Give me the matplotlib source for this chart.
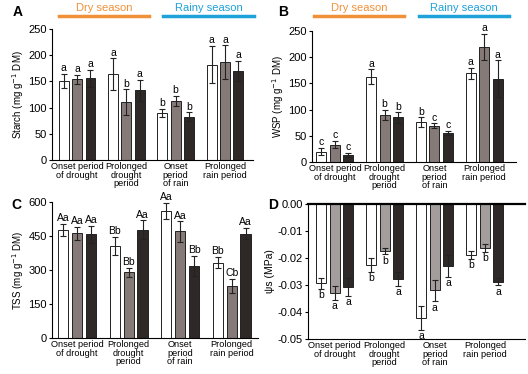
import matplotlib
matplotlib.use("Agg")
import matplotlib.pyplot as plt
import numpy as np

plt.rcParams['font.family'] = ['Liberation Sans Narrow', 'Liberation Sans', 'DejaVu Sans']

categories = ["Onset period\nof drought", "Prolonged\ndrought\nperiod",
              "Onset\nperiod\nof rain", "Prolonged\nrain period"]

# Panel A: Starch
starch = [[151, 154, 156], [164, 110, 133], [90, 113, 83], [182, 187, 170]]
starch_err = [[13, 9, 16], [30, 25, 20], [7, 9, 8], [36, 32, 19]]
starch_let = [["a", "a", "a"], ["a", "b", "a"], ["b", "b", "b"], ["a", "a", "a"]]

# Panel B: WSP
wsp = [[20, 33, 13], [163, 90, 85], [76, 69, 55], [169, 220, 159]]
wsp_err = [[7, 7, 4], [14, 10, 10], [9, 5, 4], [11, 25, 35]]
wsp_let = [["c", "c", "c"], ["a", "b", "b"], ["b", "c", "c"], ["a", "a", "a"]]

# Panel C: TSS
tss = [[477, 462, 458], [405, 290, 477], [560, 470, 317], [333, 230, 460]]
tss_err = [[28, 28, 38], [40, 20, 42], [35, 45, 45], [25, 30, 25]]
tss_let = [["Aa", "Aa", "Aa"], ["Bb", "Bb", "Aa"], ["Aa", "Aa", "Bb"], ["Bb", "Cb", "Aa"]]

# Panel D: osmotic potential
psi = [[-0.0293, -0.0330, -0.0308], [-0.0225, -0.0175, -0.0278],
       [-0.0422, -0.0320, -0.0230], [-0.0188, -0.0162, -0.0288]]
psi_err = [[0.0020, 0.0025, 0.0033], [0.0025, 0.0012, 0.0025],
           [0.0045, 0.0040, 0.0040], [0.0015, 0.0015, 0.0013]]
psi_let = [["b", "a", "a"], ["b", "b", "a"], ["a", "a", "a"], ["b", "b", "a"]]

W, H = 528, 374
fig = plt.figure(figsize=(W / 100, H / 100), dpi=100)

def ax_px(l, r, t, b):
    return fig.add_axes([l / W, 1 - b / H, (r - l) / W, (b - t) / H])

fills = ["white", "#857a77", "#2e2927"]
fills_d = ["white", "#a39d9b", "#2e2927"]
offs = [-0.27, 0, 0.27]
bw = 0.2
FS = 7.5

def draw(ax, vals, errs, lets, colors, neg=False):
    x = np.arange(len(vals))
    for j in range(3):
        v = [g[j] for g in vals]
        e = [g[j] for g in errs]
        ax.bar(x + offs[j], v, bw, color=colors[j], edgecolor="#222222", linewidth=0.7, zorder=2)
        ax.errorbar(x + offs[j], v, yerr=e, fmt="none", ecolor="#222222",
                    elinewidth=0.8, capsize=2.3, capthick=0.8, zorder=3)
        for i in range(len(vals)):
            if not neg:
                ax.annotate(lets[i][j], (x[i] + offs[j], v[i] + e[i]), xytext=(0, 0.5),
                            textcoords="offset points", ha="center", va="bottom", fontsize=FS)
            else:
                ax.annotate(lets[i][j], (x[i] + offs[j], v[i] - e[i]), xytext=(0, -1),
                            textcoords="offset points", ha="center", va="top", fontsize=FS)
    ax.set_xticks(x)
    ax.set_xticklabels(categories, fontsize=6.6, linespacing=0.95)
    ax.tick_params(axis="x", length=0, pad=1.5)
    ax.tick_params(axis="y", labelsize=8, length=2.5, width=0.8, pad=1.2)
    for s in ["top", "right"]:
        ax.spines[s].set_visible(False)
    for s in ["left", "bottom"]:
        ax.spines[s].set_linewidth(0.8)

# A
axA = ax_px(52, 253, 29, 160)
draw(axA, starch, starch_err, starch_let, fills)
axA.set_xlim(-0.51, 3.57)
axA.set_ylim(0, 250)
axA.set_yticks([0, 50, 100, 150, 200, 250])
axA.set_ylabel("Starch (mg g$^{-1}$ DM)", fontsize=7, labelpad=2)

# B
axB = ax_px(312, 516, 31, 162)
draw(axB, wsp, wsp_err, wsp_let, fills)
axB.set_xlim(-0.46, 3.64)
axB.set_ylim(0, 250)
axB.set_yticks([0, 50, 100, 150, 200, 250])
axB.set_ylabel("WSP (mg g$^{-1}$ DM)", fontsize=7, labelpad=2)

# C
axC = ax_px(52, 258, 202, 338)
draw(axC, tss, tss_err, tss_let, fills)
axC.set_xlim(-0.49, 3.51)
axC.set_ylim(0, 600)
axC.set_yticks([0, 150, 300, 450, 600])
axC.set_ylabel("TSS (mg g$^{-1}$ DM)", fontsize=7, labelpad=2)

# D
axD = ax_px(308, 525, 204, 339)
draw(axD, psi, psi_err, psi_let, fills_d, neg=True)
axD.set_xlim(-0.53, 3.8)
axD.set_ylim(-0.05, 0)
axD.set_yticks([0, -0.01, -0.02, -0.03, -0.04, -0.05])
axD.set_yticklabels(["0.00", "-0.01", "-0.02", "-0.03", "-0.04", "-0.05"])
axD.spines["top"].set_visible(True)
axD.spines["top"].set_linewidth(1.6)
axD.set_ylabel("ψs (MPa)", fontsize=7.5, labelpad=2)

# panel letters
for lbl, (px, py) in zip("ABCD", [(13, 12), (278, 12), (11, 205), (268, 205)]):
    fig.text(px / W, 1 - py / H, lbl, fontsize=10, fontweight="bold", ha="left", va="center",
             family=["Liberation Sans", "DejaVu Sans"])

# season headers
orange, blue = "#f0913a", "#1ea2d9"
for (x0, x1, txt, col) in [(59, 149, "Dry season", orange), (163, 254, "Rainy season", blue),
                           (314, 404, "Dry season", orange), (419, 509, "Rainy season", blue)]:
    fig.add_artist(plt.Line2D([x0 / W, x1 / W], [1 - 16 / H, 1 - 16 / H], color=col, lw=2.5,
                              transform=fig.transFigure))
    fig.text((x0 + x1) / 2 / W, 1 - 8 / H, txt, color=col, fontsize=8, ha="center", va="center")

fig.savefig("out.png", dpi=100)
